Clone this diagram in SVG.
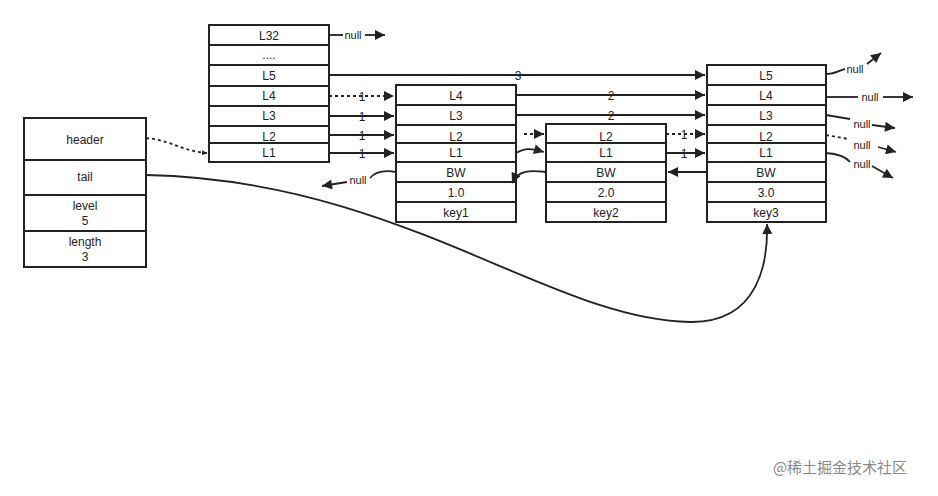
<svg xmlns="http://www.w3.org/2000/svg" width="938" height="496" viewBox="0 0 938 496">
<style>
.b{fill:#fff;stroke:#222;stroke-width:2}
text{font-family:"Liberation Sans",Arial,sans-serif;font-size:12px;fill:#222;text-anchor:middle}
.l{fill:none;stroke:#222;stroke-width:1.8}
.d{stroke-dasharray:3,3}
.n{font-size:11px}
</style>
<defs><marker id="a" viewBox="0 0 10 10" refX="10" refY="5" markerWidth="7" markerHeight="5" orient="auto" markerUnits="userSpaceOnUse"><path d="M0,0L10,5L0,10z" fill="#222"/></marker>
<marker id="m" viewBox="0 0 10 10" refX="10" refY="5" markerWidth="18" markerHeight="10" orient="auto" markerUnits="userSpaceOnUse"><path d="M0,0L10,5L0,10z" fill="#222"/></marker></defs>
<rect width="938" height="496" fill="#fff"/>
<g id="hdr">
<rect class="b" x="24" y="118" width="122" height="149"/>
<path class="l" d="M24,160H146M24,195H146M24,231H146"/>
<text x="85" y="144">header</text><text x="85" y="181">tail</text>
<text x="85" y="210">level</text><text x="85" y="225">5</text>
<text x="85" y="246">length</text><text x="85" y="261">3</text>
</g>
<g id="n0">
<rect class="b" x="209" y="25" width="120" height="137"/>
<path class="l" d="M209,45H329M209,65H329M209,86H329M209,106H329M209,126H329M209,143H329"/>
<text x="269" y="40">L32</text><text x="269" y="59">....</text><text x="269" y="80">L5</text><text x="269" y="100">L4</text><text x="269" y="120">L3</text><text x="269" y="141">L2</text><text x="269" y="157">L1</text>
</g>
<g id="n1">
<rect class="b" x="396" y="85" width="120" height="137"/>
<path class="l" d="M396,105H516M396,125H516M396,143H516M396,162H516M396,182H516M396,202H516"/>
<text x="456" y="100">L4</text><text x="456" y="120">L3</text><text x="456" y="141">L2</text><text x="456" y="157">L1</text><text x="456" y="177">BW</text><text x="456" y="197">1.0</text><text x="456" y="217">key1</text>
</g>
<g id="n2">
<rect class="b" x="546" y="124" width="120" height="98"/>
<path class="l" d="M546,143H666M546,162H666M546,182H666M546,202H666"/>
<text x="606" y="141">L2</text><text x="606" y="157">L1</text><text x="606" y="177">BW</text><text x="606" y="197">2.0</text><text x="606" y="217">key2</text>
</g>
<g id="n3">
<rect class="b" x="707" y="65" width="119" height="157"/>
<path class="l" d="M707,85H826M707,105H826M707,125H826M707,143H826M707,162H826M707,182H826M707,202H826"/>
<text x="766" y="80">L5</text><text x="766" y="100">L4</text><text x="766" y="120">L3</text><text x="766" y="141">L2</text><text x="766" y="157">L1</text><text x="766" y="177">BW</text><text x="766" y="197">3.0</text><text x="766" y="217">key3</text>
</g>
<g id="edges">
<path class="l d" marker-end="url(#a)" d="M146,138C170,140 185,152 207,153"/>
<path class="l" marker-end="url(#m)" d="M146,175C400,180 550,320 690,322C760,323 768,260 767,224"/>
<path class="l" d="M329,35H343"/><text class="n" x="353" y="39">null</text><path class="l" marker-end="url(#m)" d="M365,35H385"/>
<path class="l" marker-end="url(#m)" d="M329,75H705"/><text class="n" x="518" y="80" style="font-size:12px">3</text>
<path class="l d" marker-end="url(#m)" d="M329,96H394"/><text x="362" y="101">1</text>
<path class="l" marker-end="url(#m)" d="M329,116H394"/><text x="362" y="121">1</text>
<path class="l" marker-end="url(#m)" d="M329,135H394"/><text x="362" y="140">1</text>
<path class="l" marker-end="url(#m)" d="M329,153H394"/><text x="362" y="158">1</text>
<path class="l" marker-end="url(#m)" d="M516,95H705"/><text x="611" y="100">2</text>
<path class="l" marker-end="url(#m)" d="M516,115H705"/><text x="611" y="120">2</text>
<path class="l d" marker-end="url(#m)" d="M524,134H544"/>
<path class="l" marker-end="url(#m)" d="M516,153C525,148 530,148 544,152"/>
<path class="l" marker-end="url(#m)" d="M546,172C530,170 518,170 512,183"/>
<path class="l" d="M396,172C385,170 375,172 370,178"/><text class="n" x="358" y="184">null</text><path class="l" marker-end="url(#m)" d="M347,182L322,186"/>
<path class="l d" marker-end="url(#m)" d="M666,134H705"/><text x="684" y="139">1</text>
<path class="l" marker-end="url(#m)" d="M666,153H705"/><text x="684" y="158">1</text>
<path class="l" marker-end="url(#m)" d="M707,172H668"/>
<path class="l" d="M826,74C835,74 840,70 845,69"/><text class="n" x="855" y="73">null</text><path class="l" marker-end="url(#m)" d="M867,64L881,53"/>
<path class="l" d="M826,97H858"/><text class="n" x="870" y="101">null</text><path class="l" marker-end="url(#m)" d="M883,97H913"/>
<path class="l" d="M826,115L850,119"/><text class="n" x="862" y="128">null</text><path class="l" marker-end="url(#m)" d="M872,125L895,128"/>
<path class="l d" d="M826,135L848,139"/><text class="n" x="862" y="149">null</text><path class="l" marker-end="url(#m)" d="M878,147L896,152"/>
<path class="l" d="M826,153C840,154 846,157 850,162"/><text class="n" x="862" y="168">null</text><path class="l" marker-end="url(#m)" d="M872,166L893,178"/>
</g>
<text x="840" y="473" style="font-family:'Noto Sans CJK SC',sans-serif;font-size:15px;fill:#888">@稀土掘金技术社区</text>
</svg>
